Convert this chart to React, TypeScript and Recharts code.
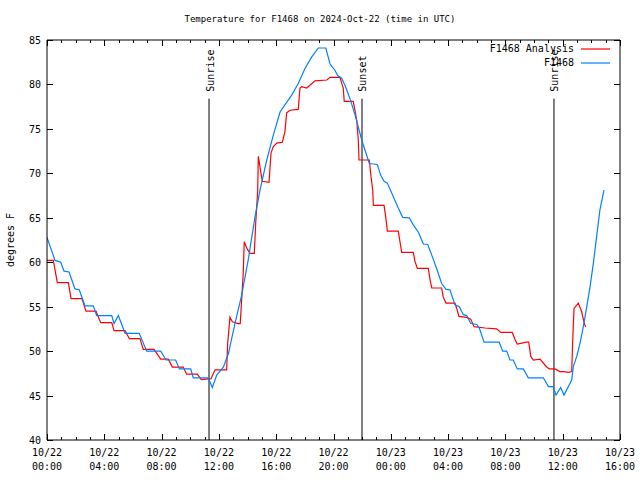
import React from 'react';
import { LineChart, Line, XAxis, YAxis, ReferenceLine } from 'recharts';

const FONT = '"DejaVu Sans Mono", monospace';

// [hours since 10/22 00:00 UTC, degrees F]
const observed: [number, number][] = [
  [0, 62.8], [0.56, 60.2], [0.96, 60.0], [1.19, 59.0], [1.54, 58.9], [1.95, 57.0], [2.25, 56.9],
  [2.65, 55.1], [3.23, 55.1], [3.47, 54.0], [4.52, 54.0], [4.68, 53.1], [4.98, 54.0], [5.45, 52.0],
  [6.44, 52.0], [6.96, 50.0], [7.94, 50.0], [8.31, 49.0], [8.98, 49.0], [9.24, 48.0], [10.03, 48.0],
  [10.21, 47.0], [11.26, 47.0], [11.54, 45.9], [11.85, 47.3], [12.31, 48.2], [12.66, 49.7],
  [13.12, 53.1], [13.59, 56.3], [14.05, 60.3], [14.52, 65.1], [14.87, 68.1], [15.34, 71.5],
  [15.8, 74.3], [16.27, 76.9], [16.61, 77.7], [17.08, 78.8], [17.54, 80.1], [18.01, 81.8],
  [18.48, 83.1], [18.94, 84.1], [19.46, 84.1], [19.76, 82.3], [20.1, 81.6], [20.29, 81.0],
  [20.57, 80.7], [20.8, 79.9], [21.15, 78.4], [21.5, 76.6], [21.97, 73.75], [22.5, 71.1],
  [23.06, 71.0], [23.29, 69.8], [23.53, 69.1], [23.76, 68.9], [24.17, 67.4], [24.52, 66.1],
  [24.83, 65.05], [25.29, 65.0], [25.57, 64.2], [25.92, 63.4], [26.27, 62.05], [26.58, 62.0],
  [26.86, 60.8], [27.2, 59.3], [27.55, 57.6], [27.85, 56.95], [28.13, 56.9], [28.48, 55.2],
  [28.78, 55.0], [29.06, 54.1], [29.3, 54.0], [29.58, 53.1], [30.0, 53.0], [30.18, 52.6],
  [30.51, 51.0], [31.57, 51.0], [31.81, 50.0], [32.09, 50.0], [32.32, 49.0], [32.55, 49.0],
  [32.83, 48.0], [33.25, 48.0], [33.6, 47.0], [34.65, 47.0], [35.0, 46.0], [35.34, 46.0],
  [35.53, 45.05], [35.86, 45.9], [36.09, 45.05], [36.63, 46.75], [36.74, 48.25], [36.98, 49.4],
  [37.21, 50.9], [37.44, 52.75], [37.68, 55.0], [37.91, 57.25], [38.14, 59.9], [38.37, 62.9],
  [38.6, 65.9], [38.88, 68.1],
];

const analysis: [number, number][] = [
  [0, 60.2], [0.44, 60.2], [0.72, 57.7], [1.49, 57.7], [1.68, 55.9], [2.44, 55.9], [2.72, 54.5],
  [3.42, 54.5], [3.75, 53.2], [4.52, 53.2], [4.68, 52.3], [5.45, 52.3], [5.75, 51.4], [6.49, 51.4],
  [6.72, 50.2], [7.47, 50.2], [7.94, 49.1], [8.47, 49.1], [8.75, 48.2], [9.51, 48.2], [9.75, 47.4],
  [10.49, 47.4], [10.77, 46.8], [11.45, 46.9], [11.73, 47.9], [12.54, 47.9], [12.61, 50.8],
  [12.77, 53.8], [12.94, 53.3], [13.35, 53.1], [13.49, 53.1], [13.59, 55.8], [13.7, 58.8],
  [13.77, 62.3], [13.94, 61.6], [14.17, 61.0], [14.47, 61.0], [14.57, 64.4], [14.71, 68.1],
  [14.75, 71.9], [14.87, 70.7], [15.03, 69.1], [15.5, 69.0], [15.64, 72.3], [15.8, 73.0],
  [16.04, 73.4], [16.43, 73.5], [16.61, 74.7], [16.73, 76.8], [16.96, 77.1], [17.54, 77.2],
  [17.66, 79.6], [17.78, 79.75], [18.13, 79.6], [18.71, 80.4], [19.53, 80.5], [19.76, 80.8],
  [20.45, 80.8], [20.68, 79.6], [20.75, 78.1], [21.38, 78.1], [21.62, 76.0], [21.73, 73.75],
  [21.78, 71.5], [22.5, 71.5], [22.62, 69.6], [22.74, 68.1], [22.78, 66.4], [23.53, 66.4],
  [23.66, 64.9], [23.76, 63.5], [24.52, 63.5], [24.64, 62.3], [24.76, 61.1], [25.57, 61.1],
  [25.69, 60.1], [25.85, 59.3], [26.62, 59.3], [26.74, 58.0], [26.86, 57.1], [27.55, 57.1],
  [27.66, 56.1], [27.85, 55.4], [28.48, 55.4], [28.6, 54.8], [28.76, 53.9], [29.3, 53.8],
  [29.58, 53.6], [29.81, 52.75], [30.58, 52.6], [31.39, 52.5], [31.67, 52.1], [32.48, 52.1],
  [32.67, 51.3], [32.83, 50.8], [33.49, 51.0], [33.63, 51.0], [33.77, 49.4], [33.95, 49.0],
  [34.42, 49.1], [34.83, 48.3], [35.06, 48.0], [35.46, 48.0], [35.81, 47.7], [36.09, 47.7],
  [36.39, 47.6], [36.63, 47.7], [36.7, 51.25], [36.79, 54.8], [37.09, 55.4], [37.33, 54.4],
  [37.51, 53.1], [37.61, 52.7],
];

const sunEvents = [
  { label: 'Sunrise', hour: 11.31 },
  { label: 'Sunset', hour: 21.99 },
  { label: 'Sunrise', hour: 35.39 },
];
const sunLineTop = 78.4;

const dateLabels = ['10/22', '10/22', '10/22', '10/22', '10/22', '10/22', '10/23', '10/23', '10/23', '10/23', '10/23'];
const timeLabels = ['00:00', '04:00', '08:00', '12:00', '16:00', '20:00', '00:00', '04:00', '08:00', '12:00', '16:00'];
const yTicks = [40, 45, 50, 55, 60, 65, 70, 75, 80, 85];
const hourTicks = Array.from({ length: 41 }, (_, i) => i);

const legendItems = [
  { name: 'F1468 Analysis', color: '#ff0000' },
  { name: 'F1468', color: '#0080ff' },
];

const obsData = observed.map(([hour, temp]) => ({ hour, temp }));
const anaData = analysis.map(([hour, temp]) => ({ hour, temp }));

// pixel-snap so 1px tick marks stay solid black
const px = (v: number) => Math.round(v) + 0.5;

const BottomTick = ({ x, y, payload }: any) => {
  const h = payload.value;
  const major = h % 4 === 0;
  return (
    <g>
      <line x1={px(x)} x2={px(x)} y1={y} y2={y - (major ? 6 : 3)} stroke="#000" strokeWidth={1} />
      {major && (
        <>
          <text x={x} y={y + 16} textAnchor="middle" fontFamily={FONT} fontSize={10} fill="#000">{dateLabels[h / 4]}</text>
          <text x={x} y={y + 30} textAnchor="middle" fontFamily={FONT} fontSize={10} fill="#000">{timeLabels[h / 4]}</text>
        </>
      )}
    </g>
  );
};

const TopTick = ({ x, y, payload }: any) => {
  const major = payload.value % 4 === 0;
  return <line x1={px(x)} x2={px(x)} y1={y} y2={y + (major ? 6 : 3)} stroke="#000" strokeWidth={1} />;
};

const LeftTick = ({ x, y, payload }: any) => (
  <g>
    <line x1={x} x2={x + 6} y1={px(y)} y2={px(y)} stroke="#000" strokeWidth={1} />
    <text x={x - 6} y={y} dy={4} textAnchor="end" fontFamily={FONT} fontSize={10} fill="#000">{payload.value}</text>
  </g>
);

const RightTick = ({ x, y }: any) => (
  <line x1={x} x2={x - 6} y1={px(y)} y2={px(y)} stroke="#000" strokeWidth={1} />
);

const sunLabel = (text: string) => (props: any) => {
  const vb = props.viewBox || {};
  const x = (vb.x ?? vb.x1 ?? 0) + 1;
  const y = (vb.y ?? vb.y1 ?? 0) - 7;
  return (
    <text x={x} y={y} transform={`rotate(-90 ${x} ${y})`} textAnchor="start" dominantBaseline="central"
      fontFamily={FONT} fontSize={10} fill="#000">{text}</text>
  );
};

const yLabel = (props: any) => {
  const vb = props.viewBox || {};
  const x = (vb.x ?? 0) + 10;
  const y = (vb.y ?? 0) + (vb.height ?? 0) / 2;
  return (
    <text x={x} y={y} transform={`rotate(-90 ${x} ${y})`} textAnchor="middle" dominantBaseline="central"
      fontFamily={FONT} fontSize={10} fill="#000">degrees F</text>
  );
};

export default function App() {
  return (
    <div style={{ position: 'absolute', left: 0, top: 0, width: 640, height: 480, background: '#fff' }}>
      <div style={{ position: 'absolute', top: 13, left: 0, width: 640, textAlign: 'center', fontFamily: FONT, fontSize: 9, lineHeight: '12px' }}>
        Temperature for F1468 on 2024-Oct-22 (time in UTC)
      </div>
      <LineChart width={640} height={480} margin={{ top: 39, right: 19, bottom: 0, left: 0 }}>
        <XAxis xAxisId="bottom" dataKey="hour" type="number" domain={[0, 40]} ticks={hourTicks}
          interval={0} height={40} tickSize={0} tickMargin={0} tickLine={false}
          axisLine={{ stroke: '#000' }} tick={<BottomTick />} allowDataOverflow />
        <XAxis xAxisId="top" orientation="top" dataKey="hour" type="number" domain={[0, 40]} ticks={hourTicks}
          interval={0} height={1} tickSize={0} tickMargin={0} tickLine={false}
          axisLine={{ stroke: '#000' }} tick={<TopTick />} allowDataOverflow />
        <YAxis yAxisId="left" type="number" domain={[40, 85]} ticks={yTicks} interval={0} width={47}
          tickSize={0} tickMargin={0} tickLine={false} axisLine={{ stroke: '#000' }} tick={<LeftTick />}
          label={{ content: yLabel }} allowDataOverflow />
        <YAxis yAxisId="right" orientation="right" type="number" domain={[40, 85]} ticks={yTicks} interval={0}
          width={1} tickSize={0} tickMargin={0} tickLine={false} axisLine={{ stroke: '#000' }} tick={<RightTick />}
          allowDataOverflow />
        {sunEvents.map((s, i) => (
          <ReferenceLine key={i} xAxisId="bottom" yAxisId="left" stroke="#000" strokeWidth={1}
            segment={[{ x: s.hour, y: sunLineTop }, { x: s.hour, y: 40 }]}
            label={{ content: sunLabel(s.label) }} />
        ))}
        <Line xAxisId="top" yAxisId="right" data={anaData} dataKey="temp" type="linear" stroke="#ff0000"
          strokeWidth={1.2} dot={false} isAnimationActive={false} />
        <Line xAxisId="bottom" yAxisId="left" data={obsData} dataKey="temp" type="linear" stroke="#0080ff"
          strokeWidth={1.2} dot={false} isAnimationActive={false} />
      </LineChart>
      <div style={{ position: 'absolute', top: 42, left: 420, width: 192, fontFamily: FONT, fontSize: 10 }}>
        {legendItems.map((r) => (
          <div key={r.name} style={{ display: 'flex', alignItems: 'center', justifyContent: 'flex-end', height: 14 }}>
            <span style={{ lineHeight: '14px' }}>{r.name}</span>
            <svg width={29} height={4} style={{ marginLeft: 7, marginRight: 2 }}>
              <line x1={0} x2={29} y1={2} y2={2} stroke={r.color} strokeWidth={1.2} />
            </svg>
          </div>
        ))}
      </div>
    </div>
  );
}
